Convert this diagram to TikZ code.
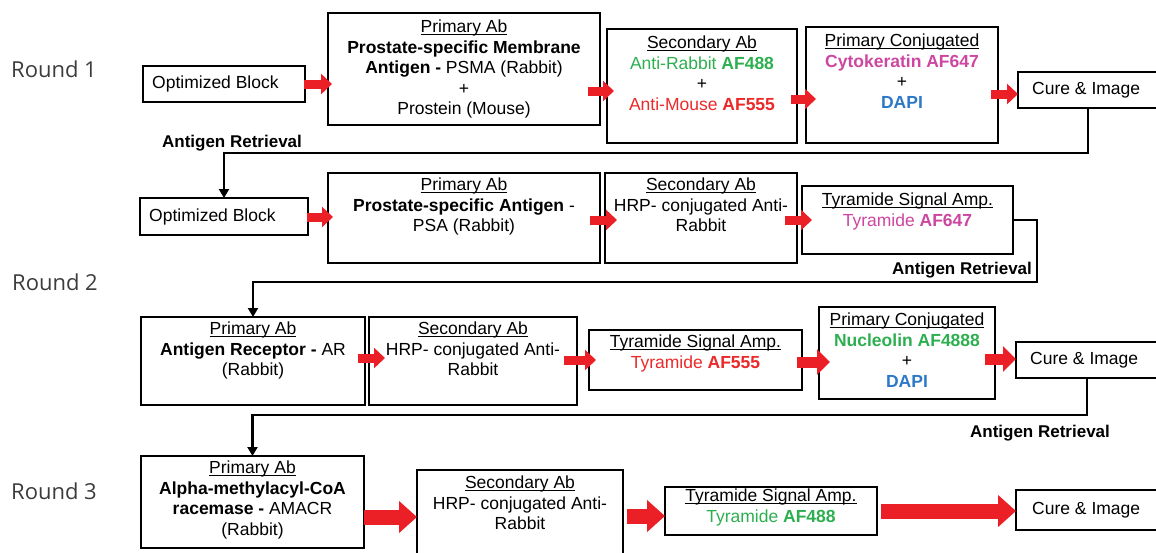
\documentclass[tikz,border=0pt]{standalone}
\usepackage{fontspec}
\setmainfont{Liberation Sans}
\newfontfamily\roundfont{Open Sans}
\usetikzlibrary{arrows.meta}
\definecolor{arrred}{RGB}{234,32,38}
\definecolor{tgreen}{RGB}{45,175,80}
\definecolor{tred}{RGB}{236,40,40}
\definecolor{tmag}{RGB}{205,70,160}
\definecolor{tblue}{RGB}{45,120,200}
\definecolor{roundgray}{RGB}{60,60,60}
\newcommand\ulhead[1]{\setbox0\hbox{#1}\rlap{\rule[-2.6pt]{\wd0}{1.1pt}}\box0}
\begin{document}
\begin{tikzpicture}[x=1pt,y=-1pt,
  box/.style={draw, line width=2.4pt, inner sep=0pt, outer sep=0pt, anchor=north west},
  txt/.style={align=center, inner sep=0pt, font=\fontsize{17.5}{20.5}\selectfont},
  rnd/.style={inner sep=0pt, font=\roundfont\fontsize{22}{26}\selectfont, text=roundgray},
  retr/.style={inner sep=0pt, font=\fontsize{17}{20}\selectfont\bfseries},
  lp/.style={line width=2.6pt, -{Triangle[length=9pt,width=10pt]}},
  rarr/.style={draw=arrred, line width=9pt, -{Triangle[length=11pt,width=20pt]}},
  marr/.style={draw=arrred, line width=11pt, -{Triangle[length=13pt,width=25pt]}},
  barr/.style={draw=arrred, line width=15pt, -{Triangle[length=18pt,width=31pt]}}]
\useasboundingbox (0,0) rectangle (1156,552);

% round labels
\node[rnd] (R1) at (54,69) {Round 1};
\node[rnd] (R2) at (55,282) {Round 2};
\node[rnd] (R3) at (54,491) {Round 3};

% ---------------- Row 1
\node[box, minimum width=162, minimum height=36] (OB1) at (143,66) {};
\node[box, minimum width=272, minimum height=112] (PA1) at (328,13) {};
\node[box, minimum width=190, minimum height=114] (SA1) at (607,29) {};
\node[box, minimum width=192, minimum height=116] (PC1) at (806,27) {};
\node[box, minimum width=150, minimum height=36] (CI1) at (1018,72) {};

\node[txt, anchor=west] (tOB1) at ([xshift=9]OB1.west) {Optimized Block};
\node[txt, anchor=north] (tPA1) at ([yshift=-7]PA1.north) {\ulhead{Primary Ab}\\ \textbf{Prostate-specific Membrane}\\ \textbf{Antigen -} PSMA (Rabbit)\\ +\\ Prostein (Mouse)};
\node[txt, anchor=north] (tSA1) at ([yshift=-7]SA1.north) {\ulhead{Secondary Ab}\\ \textcolor{tgreen}{Anti-Rabbit \textbf{AF488}}\\ +\\ \textcolor{tred}{Anti-Mouse \textbf{AF555}}};
\node[txt, anchor=north] (tPC1) at ([yshift=-7]PC1.north) {\ulhead{Primary Conjugated}\\ \textcolor{tmag}{\textbf{Cytokeratin AF647}}\\ +\\ \textcolor{tblue}{\textbf{DAPI}}};
\node[txt, anchor=west] (tCI1) at ([xshift=14]CI1.west) {Cure \& Image};

\draw[rarr] ([xshift=-1]OB1.east |- 0,84) -- ([xshift=4]PA1.west |- 0,84);
\draw[rarr] ([xshift=-12]PA1.east |- 0,91) -- ([xshift=7]SA1.west |- 0,91);
\draw[rarr] ([xshift=-6]SA1.east |- 0,99) -- ([xshift=10]PC1.west |- 0,99);
\draw[rarr] ([xshift=-7]PC1.east |- 0,94) -- (CI1.west |- 0,94);

% ---------------- Row 2
\node[box, minimum width=168, minimum height=37] (OB2) at (140,198) {};
\node[box, minimum width=272, minimum height=90] (PA2) at (328,173) {};
\node[box, minimum width=192, minimum height=90] (SA2) at (605,173) {};
\node[box, minimum width=211, minimum height=68] (TSA2) at (802,186) {};

\node[txt, anchor=west] (tOB2) at ([xshift=9]OB2.west) {Optimized Block};
\node[txt, anchor=north] (tPA2) at ([yshift=-5]PA2.north) {\ulhead{Primary Ab}\\ \textbf{Prostate-specific Antigen} -\\ PSA (Rabbit)};
\node[txt, anchor=north] (tSA2) at ([yshift=-5]SA2.north) {\ulhead{Secondary Ab}\\ HRP- conjugated Anti-\\ Rabbit};
\node[txt, anchor=north] (tTSA2) at ([yshift=-7]TSA2.north) {\ulhead{Tyramide Signal Amp.}\\ \textcolor{tmag}{Tyramide \textbf{AF647}}};

\draw[rarr] ([xshift=-1]OB2.east |- 0,217) -- ([xshift=5]PA2.west |- 0,217);
\draw[rarr] ([xshift=-10]PA2.east |- 0,220) -- ([xshift=12]SA2.west |- 0,220);
\draw[rarr] ([xshift=-12]SA2.east |- 0,220) -- ([xshift=10]TSA2.west |- 0,220);

% ---------------- Row 3
\node[box, minimum width=224, minimum height=88] (PA3) at (141,317) {};
\node[box, minimum width=208, minimum height=88] (SA3) at (369,317) {};
\node[box, minimum width=213, minimum height=60] (TSA3) at (589,330) {};
\node[box, minimum width=176, minimum height=92] (PC3) at (819,307) {};
\node[box, minimum width=150, minimum height=36] (CI3) at (1016,342) {};

\node[txt, anchor=north] (tPA3) at ([yshift=-5]PA3.north) {\ulhead{Primary Ab}\\ \textbf{Antigen Receptor -} AR\\ (Rabbit)};
\node[txt, anchor=north] (tSA3) at ([yshift=-5]SA3.north) {\ulhead{Secondary Ab}\\ HRP- conjugated Anti-\\ Rabbit};
\node[txt, anchor=north] (tTSA3) at ([yshift=-5]TSA3.north) {\ulhead{Tyramide Signal Amp.}\\ \textcolor{tred}{Tyramide \textbf{AF555}}};
\node[txt, anchor=north] (tPC3) at ([yshift=-6]PC3.north) {\ulhead{Primary Conjugated}\\ \textcolor{tgreen}{\textbf{Nucleolin AF4888}}\\ +\\ \textcolor{tblue}{\textbf{DAPI}}};
\node[txt, anchor=west] (tCI3) at ([xshift=14]CI3.west) {Cure \& Image};

\draw[rarr] ([xshift=-7]PA3.east |- 0,358) -- ([xshift=16]SA3.west |- 0,358);
\draw[rarr] ([xshift=-13]SA3.east |- 0,360) -- ([xshift=7]TSA3.west |- 0,360);
\draw[marr] ([xshift=-5]TSA3.east |- 0,362) -- ([xshift=11]PC3.west |- 0,362);
\draw[marr] ([xshift=-10]PC3.east |- 0,359) -- (CI3.west |- 0,359);

% ---------------- Row 4
\node[box, minimum width=223, minimum height=92] (PA4) at (141,456) {};
\node[box, minimum width=206, minimum height=92] (SA4) at (417,470) {};
\node[box, minimum width=212, minimum height=48] (TSA4) at (665,487) {};
\node[box, minimum width=150, minimum height=40] (CI4) at (1016,490) {};

\node[txt, anchor=north] (tPA4) at ([yshift=-5]PA4.north) {\ulhead{Primary Ab}\\ \textbf{Alpha-methylacyl-CoA}\\ \textbf{racemase -} AMACR\\ (Rabbit)};
\node[txt, anchor=north] (tSA4) at ([yshift=-6]SA4.north) {\ulhead{Secondary Ab}\\ HRP- conjugated Anti-\\ Rabbit};
\node[txt, anchor=north] (tTSA4) at ([yshift=-2]TSA4.north) {\ulhead{Tyramide Signal Amp.}\\ \textcolor{tgreen}{Tyramide \textbf{AF488}}};
\node[txt, anchor=west] (tCI4) at ([xshift=16]CI4.west) {Cure \& Image};

\draw[barr] (PA4.east |- 0,517) -- (SA4.west |- 0,517);
\draw[barr] ([xshift=4]SA4.east |- 0,516) -- (TSA4.west |- 0,516);
\draw[barr] ([xshift=4]TSA4.east |- 0,511) -- (CI4.west |- 0,511);

% ---------------- Antigen retrieval loops
\coordinate (c1) at (1088,153);
\draw[lp] (c1 |- CI1.south) -- (c1) -| (OB2.north);
\node[retr] (L1) at (232,143) {Antigen Retrieval};

\coordinate (c2a) at (1037,220);
\coordinate (c2b) at (1037,282);
\draw[lp] (TSA2.east) -- (c2a) -- (c2b) -| (PA3.north);
\node[retr] (L2) at (962,270) {Antigen Retrieval};

\coordinate (c3) at (1087,415);
\draw[lp] (c3 |- CI3.south) -- (c3) -| (PA4.north);
\node[retr] (L3) at (1040,433) {Antigen Retrieval};
\end{tikzpicture}
\end{document}
